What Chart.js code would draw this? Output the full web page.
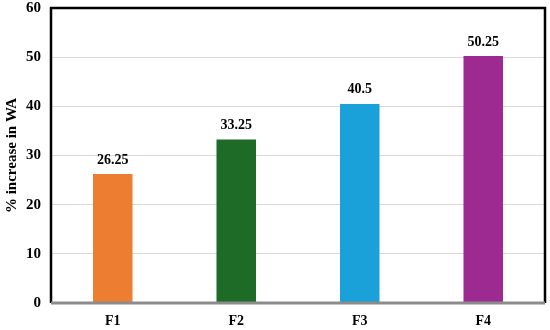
<!DOCTYPE html>
<html lang="en">
<head>
    <meta charset="UTF-8">
    <title>% increase in WA</title>
    <script src="https://cdn.jsdelivr.net/npm/chart.js"></script>
    <style>
        html, body { margin: 0; padding: 0; background: #fff; }
        #wrap { width: 550px; height: 330px; }
    </style>
</head>
<body>
    <div id="wrap"><canvas id="waChart" width="550" height="330"></canvas></div>

    <script>
        const categories = ['F1', 'F2', 'F3', 'F4'];
        const increase = [26.25, 33.25, 40.5, 50.25];
        const barColors = ['#ED7D31', '#1E6B28', '#1BA1DA', '#9C2A91'];
        const yTicks = [0, 10, 20, 30, 40, 50, 60];

        const serif = "'Liberation Serif', 'Times New Roman', serif";

        // frame around the plot area: black left/top/right, grey base line
        const framePlugin = {
            id: 'frame',
            afterDraw(chart) {
                const a = chart.chartArea;
                const c = chart.ctx;
                c.save();
                c.strokeStyle = '#000';
                c.lineWidth = 2.5;
                c.beginPath();
                c.moveTo(a.left, a.bottom);
                c.lineTo(a.left, a.top);
                c.lineTo(a.right, a.top);
                c.lineTo(a.right, a.bottom);
                c.stroke();
                c.strokeStyle = '#8c8c8c';
                c.lineWidth = 3;
                c.beginPath();
                c.moveTo(a.left, a.bottom);
                c.lineTo(a.right, a.bottom);
                c.stroke();
                c.restore();
            }
        };

        // value labels above each bar
        const valuePlugin = {
            id: 'values',
            afterDatasetsDraw(chart) {
                const c = chart.ctx;
                const meta = chart.getDatasetMeta(0);
                c.save();
                c.font = 'bold 14px ' + serif;
                c.fillStyle = '#000';
                c.textAlign = 'center';
                c.textBaseline = 'bottom';
                meta.data.forEach((bar, i) => {
                    c.fillText(String(increase[i]), bar.x, bar.y - 7);
                });
                c.restore();
            }
        };

        new Chart(document.getElementById('waChart'), {
            type: 'bar',
            data: {
                labels: categories,
                datasets: [{
                    data: increase,
                    backgroundColor: barColors,
                    categoryPercentage: 1,
                    barPercentage: 0.32
                }]
            },
            options: {
                responsive: false,
                animation: false,
                layout: { padding: { top: 8, right: 5, left: 3, bottom: 0 } },
                plugins: {
                    legend: { display: false },
                    tooltip: { enabled: false }
                },
                scales: {
                    x: {
                        grid: { display: false },
                        border: { display: false },
                        ticks: {
                            color: '#000',
                            font: { family: serif, size: 14, weight: 'bold' },
                            padding: 2
                        },
                        afterFit(scale) { scale.height = 27; }
                    },
                    y: {
                        min: 0,
                        max: 60,
                        afterBuildTicks(scale) {
                            scale.ticks = yTicks.map(v => ({ value: v }));
                        },
                        grid: { color: '#d9d9d9', lineWidth: 1, drawTicks: false },
                        border: { display: false },
                        ticks: {
                            color: '#000',
                            font: { family: serif, size: 15, weight: 'bold' },
                            padding: 10
                        },
                        title: {
                            display: true,
                            text: '% increase in WA',
                            color: '#000',
                            font: { family: serif, size: 15, weight: 'bold' },
                            padding: { top: 0, bottom: 0 }
                        },
                        afterFit(scale) {
                            scale.width = 48;
                            scale.paddingTop = 0;
                            scale.paddingBottom = 0;
                        }
                    }
                }
            },
            plugins: [framePlugin, valuePlugin]
        });
    </script>
</body>
</html>
